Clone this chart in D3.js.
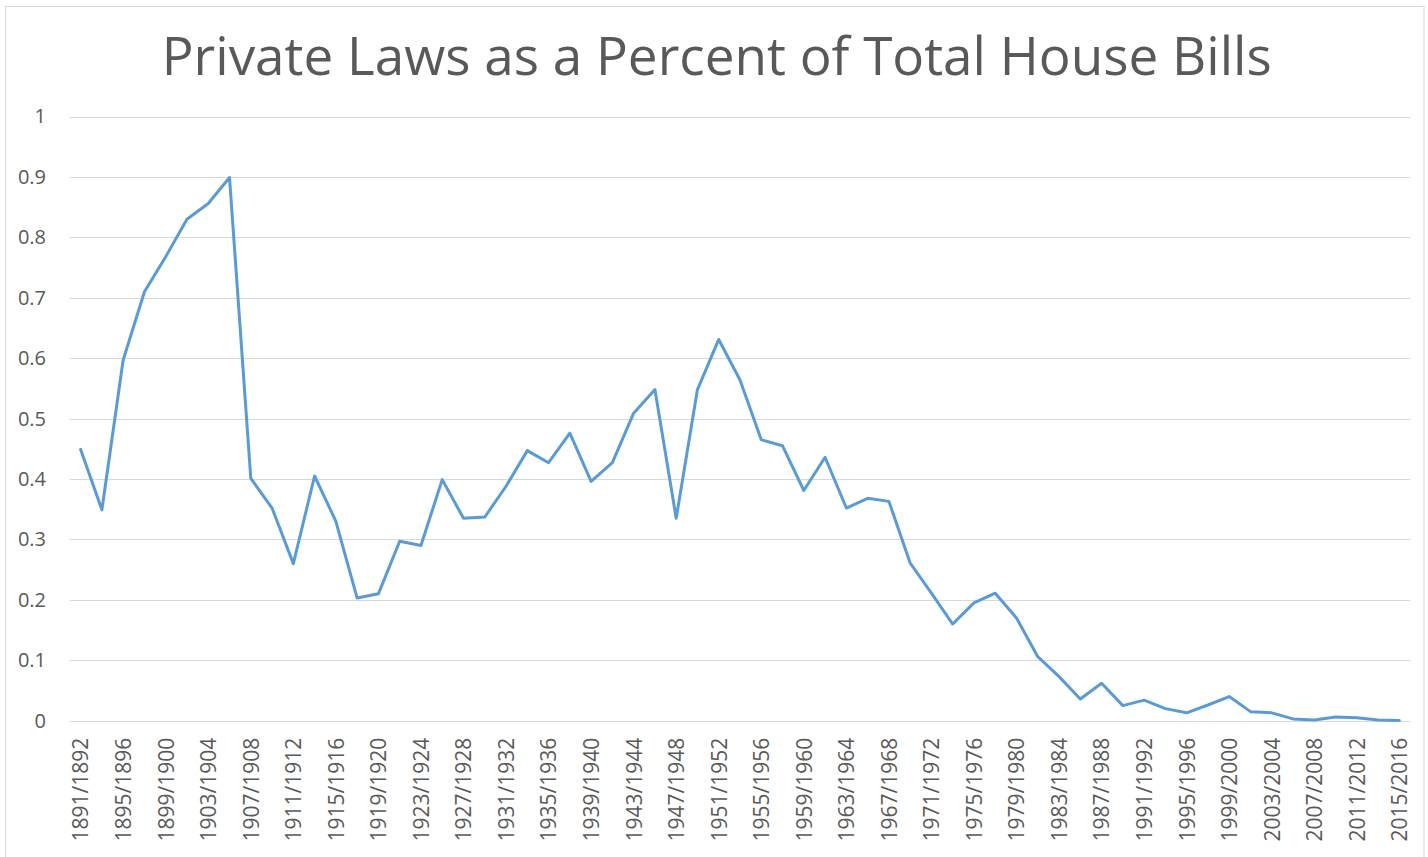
<!DOCTYPE html>
<html>
<head>
<meta charset="utf-8">
<script src="https://cdn.jsdelivr.net/npm/d3@7/dist/d3.min.js"></script>
<style>
  html, body { margin: 0; padding: 0; background: #fff; }
  svg { display: block; }
</style>
</head>
<body>
<svg id="chart" width="1428" height="857"></svg>
<script>
const title = "Private Laws as a Percent of Total House Bills";

const startYears = [1891,1893,1895,1897,1899,1901,1903,1905,1907,1909,1911,1913,1915,1917,1919,1921,
  1923,1925,1927,1929,1931,1933,1935,1937,1939,1941,1943,1945,1947,1949,1951,1953,1955,1957,1959,1961,
  1963,1965,1967,1969,1971,1973,1975,1977,1979,1981,1983,1985,1987,1989,1991,1993,1995,1997,1999,2001,
  2003,2005,2007,2009,2011,2013,2015];
const categories = startYears.map(y => y + "/" + (y + 1));

const values = [0.449,0.349,0.597,0.71,0.768,0.83,0.856,0.899,0.401,0.352,0.26,0.405,0.33,0.203,0.21,0.297,
  0.29,0.399,0.335,0.337,0.388,0.447,0.427,0.476,0.396,0.427,0.509,0.548,0.335,0.548,0.631,0.564,
  0.465,0.455,0.381,0.436,0.352,0.368,0.363,0.261,0.211,0.16,0.195,0.211,0.17,0.106,0.073,0.036,
  0.062,0.025,0.034,0.02,0.013,0.026,0.04,0.015,0.013,0.003,0.001,0.006,0.005,0.001,0.0005];

const yTicks = [0,0.1,0.2,0.3,0.4,0.5,0.6,0.7,0.8,0.9,1];

const svg = d3.select("#chart");
const plot = { left: 70, right: 1410, top: 116.5, bottom: 720.7 };

// outer border
svg.append("rect")
  .attr("x", 5.5).attr("y", 6.5)
  .attr("width", 1418.5).attr("height", 860)
  .attr("fill", "#fff").attr("stroke", "#d9d9d9").attr("stroke-width", 1);

const x = d3.scalePoint().domain(categories).range([plot.left, plot.right]).padding(0.5);
const y = d3.scaleLinear().domain([0, 1]).range([plot.bottom, plot.top]);

// gridlines
svg.append("g").selectAll("line").data(yTicks).join("line")
  .attr("x1", plot.left).attr("x2", plot.right)
  .attr("y1", d => Math.round(y(d)) + 0.5).attr("y2", d => Math.round(y(d)) + 0.5)
  .attr("stroke", "#d9d9d9").attr("stroke-width", 1);

// y axis labels
const yAxis = d3.axisLeft(y).tickValues(yTicks).tickSize(0).tickPadding(0)
  .tickFormat(d => d3.format("")(+d.toFixed(1)));
const gy = svg.append("g").attr("transform", "translate(46,0)").call(yAxis);
gy.select(".domain").remove();
gy.selectAll("text")
  .attr("font-family", "'Open Sans', 'Noto Sans', sans-serif")
  .attr("font-size", 20).attr("fill", "#595959");

// x axis labels
const xAxis = d3.axisBottom(x)
  .tickValues(categories.filter((d, i) => i % 2 === 0))
  .tickSize(0).tickPadding(0);
const gx = svg.append("g").attr("transform", `translate(0,${plot.bottom})`).call(xAxis);
gx.select(".domain").remove();
gx.selectAll("text")
  .attr("font-family", "'Open Sans', 'Noto Sans', sans-serif")
  .attr("font-size", 21).attr("fill", "#595959")
  .attr("transform", "rotate(-90)")
  .attr("text-anchor", "end")
  .attr("x", -17).attr("y", 0).attr("dy", "0.35em");

// line
const line = d3.line().x((d, i) => x(categories[i])).y(d => y(d));
svg.append("path").datum(values)
  .attr("d", line)
  .attr("fill", "none")
  .attr("stroke", "#5B9BD5")
  .attr("stroke-width", 3)
  .attr("stroke-linejoin", "round")
  .attr("stroke-linecap", "round");

// title
svg.append("text")
  .attr("x", 716.7).attr("y", 75)
  .attr("text-anchor", "middle")
  .attr("font-family", "'Open Sans', 'Noto Sans', sans-serif")
  .attr("font-size", 53)
  .attr("fill", "#595959")
  .attr("textLength", 1110)
  .attr("lengthAdjust", "spacingAndGlyphs")
  .text(title);
</script>
</body>
</html>
